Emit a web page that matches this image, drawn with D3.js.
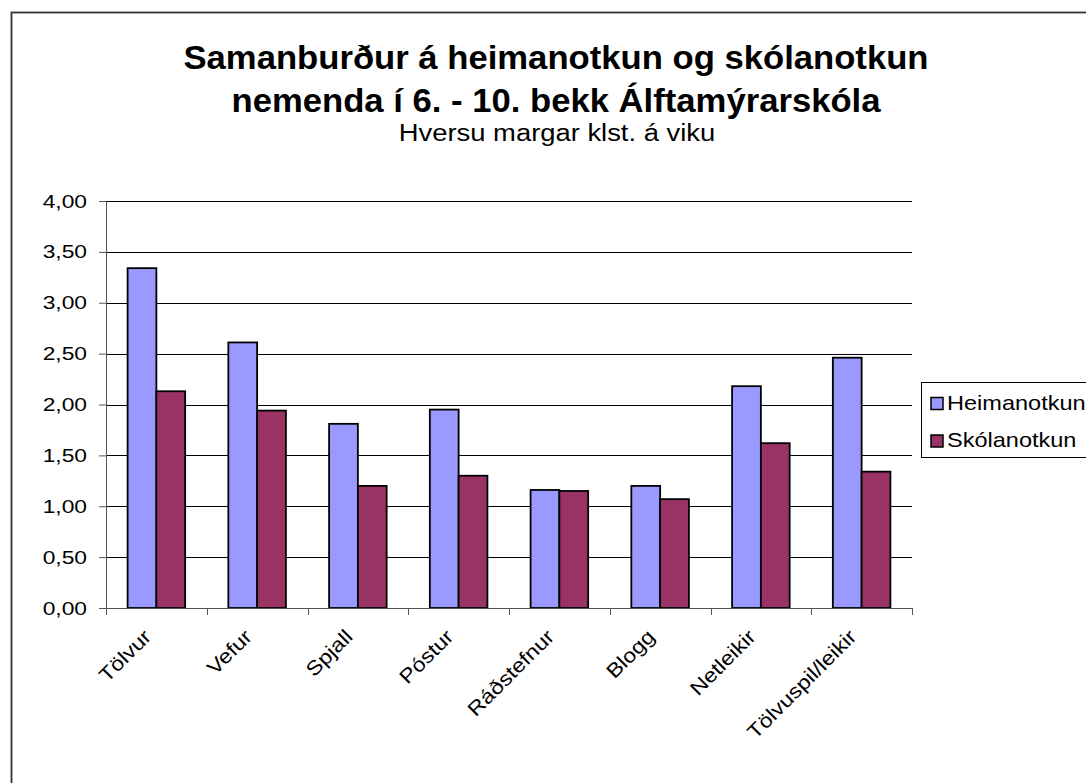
<!DOCTYPE html>
<html>
<head>
<meta charset="utf-8">
<script src="https://cdn.jsdelivr.net/npm/d3@7/dist/d3.min.js"></script>
<style>
  html, body { margin: 0; padding: 0; background: #fff; overflow: hidden; }
  svg { display: block; font-family: 'Liberation Sans', Arial, sans-serif; }
</style>
</head>
<body>
<div id="chart"></div>
<script>
const categories = ['Tölvur', 'Vefur', 'Spjall', 'Póstur', 'Ráðstefnur', 'Blogg', 'Netleikir', 'Tölvuspil/leikir']
const seriesNames = ['Heimanotkun', 'Skólanotkun']
const heimanotkun = [3.34, 2.61, 1.81, 1.95, 1.16, 1.20, 2.18, 2.46]
const skolanotkun = [2.13, 1.94, 1.20, 1.30, 1.15, 1.07, 1.62, 1.34]
const yTicks = [0, 0.5, 1, 1.5, 2, 2.5, 3, 3.5, 4]
const titleLines = ['Samanburður á heimanotkun og skólanotkun', 'nemenda í 6. - 10. bekk Álftamýrarskóla']
const subtitle = 'Hversu margar klst. á viku'

const colors = ['#9999ff', '#993366']
const width = 1086
const height = 783
const plot = { left: 106, right: 912, top: 201, bottom: 608 }

const locale = d3.formatLocale({ decimal: ',', thousands: '.', grouping: [3], currency: ['', ''] })
const fmt = locale.format('.2f')

// Excel drew its text a bit wider than Arial, so stretch each label
const stretch = (sel, factor) => {
  sel.each(function () {
    const len = this.getComputedTextLength()
    d3.select(this)
      .attr('textLength', len * factor)
      .attr('lengthAdjust', 'spacingAndGlyphs')
  })
}

const svg = d3.select('#chart')
  .append('svg')
  .attr('width', width)
  .attr('height', height)

// chart frame, runs off the right and bottom of the window
svg.append('rect')
  .attr('x', 11.5)
  .attr('y', 12.5)
  .attr('width', 1200)
  .attr('height', 1000)
  .style('fill', '#fff')
  .style('stroke', '#333')
  .style('stroke-width', 1.8)

const title = svg.append('g')
  .attr('class', 'title')

title.selectAll('.title__line')
  .data(titleLines)
  .enter()
  .append('text')
  .attr('class', 'title__line')
  .attr('x', 556)
  .attr('y', (d, i) => 69 + i * 43)
  .attr('text-anchor', 'middle')
  .style('font-size', '33px')
  .style('font-weight', 'bold')
  .text((d) => d)
  .call(stretch, 1.05)

title.append('text')
  .attr('x', 557)
  .attr('y', 141)
  .attr('text-anchor', 'middle')
  .style('font-size', '23px')
  .text(subtitle)
  .call(stretch, 1.19)

const x = d3.scaleBand()
  .domain(categories)
  .range([plot.left, plot.right])

// Excel gap width 150%: two bars plus 1.5 bar widths of gap per category
const barWidth = x.bandwidth() / 3.5
const xInner = d3.scaleBand()
  .domain(seriesNames)
  .range([barWidth * 0.75, barWidth * 2.75])

const y = d3.scaleLinear()
  .domain([0, 4])
  .range([plot.bottom, plot.top])

// gridlines
svg.append('g')
  .attr('class', 'grid')
  .selectAll('line')
  .data(yTicks.filter((d) => d > 0))
  .enter()
  .append('line')
  .attr('x1', plot.left)
  .attr('x2', plot.right)
  .attr('y1', (d) => Math.round(y(d)) + 0.5)
  .attr('y2', (d) => Math.round(y(d)) + 0.5)
  .style('stroke', '#000')
  .style('shape-rendering', 'crispEdges')

const rows = categories.map((c, i) => ({
  category: c,
  values: [
    { name: seriesNames[0], value: heimanotkun[i] },
    { name: seriesNames[1], value: skolanotkun[i] },
  ],
}))

const groups = svg.append('g')
  .attr('class', 'bars')
  .selectAll('.bars__group')
  .data(rows)
  .enter()
  .append('g')
  .attr('class', 'bars__group')
  .attr('transform', (d) => `translate(${x(d.category)},0)`)

groups.selectAll('rect')
  .data((d) => d.values)
  .enter()
  .append('rect')
  .attr('x', (d) => xInner(d.name))
  .attr('y', (d) => y(d.value))
  .attr('width', xInner.bandwidth())
  .attr('height', (d) => y(0) - y(d.value))
  .style('fill', (d, i) => colors[i])
  .style('stroke', '#000')
  .style('stroke-width', 1.8)

// y axis
const yAxis = svg.append('g')
  .attr('class', 'axis axis--y')
  .attr('transform', `translate(${plot.left},0)`)
  .call(d3.axisLeft(y).tickValues(yTicks).tickSize(7).tickPadding(12).tickFormat(fmt))

yAxis.select('.domain').style('stroke', '#555')
yAxis.selectAll('.tick line').style('stroke', '#555')
yAxis.selectAll('text')
  .style('font-size', '19px')
  .style('font-family', "'Liberation Sans', Arial, sans-serif")
  .style('fill', '#000')
  .call(stretch, 1.2)

// x axis: ticks sit on the category boundaries
const boundaries = d3.range(categories.length + 1).map((i) => plot.left + i * x.step())

const xAxis = svg.append('g')
  .attr('class', 'axis axis--x')

xAxis.append('line')
  .attr('x1', plot.left)
  .attr('x2', plot.right)
  .attr('y1', plot.bottom + 0.5)
  .attr('y2', plot.bottom + 0.5)
  .style('stroke', '#555')

xAxis.selectAll('.axis__tick')
  .data(boundaries)
  .enter()
  .append('line')
  .attr('class', 'axis__tick')
  .attr('x1', (d) => Math.round(d) + 0.5)
  .attr('x2', (d) => Math.round(d) + 0.5)
  .attr('y1', plot.bottom)
  .attr('y2', plot.bottom + 7)
  .style('stroke', '#555')

xAxis.selectAll('.axis__label')
  .data(categories)
  .enter()
  .append('text')
  .attr('class', 'axis__label')
  .attr('text-anchor', 'end')
  .attr('transform', (d) => `translate(${x(d) + x.bandwidth() / 2 - 4},${plot.bottom + 30}) rotate(-45)`)
  .style('font-size', '20px')
  .text((d) => d)
  .call(stretch, 1.15)

// legend
const legend = svg.append('g')
  .attr('class', 'legend')
  .attr('transform', 'translate(921,382)')

legend.append('rect')
  .attr('x', 0.5)
  .attr('y', 0.5)
  .attr('width', 200)
  .attr('height', 75)
  .style('fill', '#fff')
  .style('stroke', '#000')

const entries = legend.selectAll('.legend__entry')
  .data(seriesNames)
  .enter()
  .append('g')
  .attr('class', 'legend__entry')
  .attr('transform', (d, i) => `translate(0,${i * 37.5})`)

entries.append('rect')
  .attr('x', 10)
  .attr('y', 15.5)
  .attr('width', 12)
  .attr('height', 12)
  .style('fill', (d, i) => colors[i])
  .style('stroke', '#000')
  .style('stroke-width', 1.5)

entries.append('text')
  .attr('x', 26)
  .attr('y', 27.5)
  .style('font-size', '21px')
  .text((d) => d)
  .call(stretch, 1.12)
</script>
</body>
</html>
